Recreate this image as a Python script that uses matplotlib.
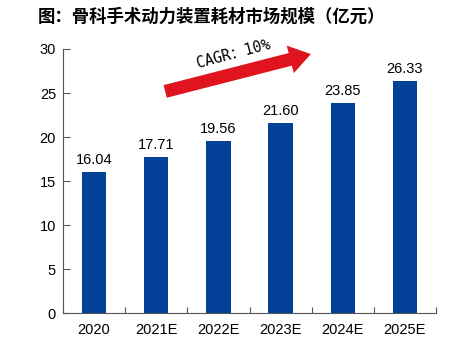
import matplotlib
matplotlib.use("Agg")
import matplotlib.pyplot as plt

plt.rcParams['font.family'] = ['Liberation Sans', 'Noto Sans CJK SC', 'DejaVu Sans']

categories = ["2020", "2021E", "2022E", "2023E", "2024E", "2025E"]
values = [16.04, 17.71, 19.56, 21.60, 23.85, 26.33]
title = "图：骨科手术动力装置耗材市场规模（亿元）"
cagr_text = "CAGR：10%"

fig = plt.figure(figsize=(4.58, 3.37), dpi=100)
ax = fig.add_axes([0.1376, 0.0712, 0.8144, 0.7834])

x = list(range(len(categories)))
ax.bar(x, values, width=0.39, color="#034098", zorder=2)
for xi, v in zip(x, values):
    ax.text(xi, v + 0.6, f"{v:.2f}", ha="center", va="bottom", fontsize=10.5, color="black")

ax.set_xlim(-0.5, len(categories) - 0.5)
ax.set_ylim(0, 30)
ax.set_yticks([0, 5, 10, 15, 20, 25, 30])
ax.set_xticks(x)
ax.set_xticklabels(categories)
ax.set_xticks([i - 0.5 for i in range(len(categories) + 1)], minor=True)
ax.tick_params(axis="x", which="major", length=0, labelsize=10.5, pad=7)
ax.tick_params(axis="x", which="minor", direction="in", length=4, width=0.8, color="#555555")
ax.tick_params(axis="y", direction="in", length=5, width=0.8, labelsize=10.5, pad=5, color="#555555")
for s in ["top", "right"]:
    ax.spines[s].set_visible(False)
for s in ["left", "bottom"]:
    ax.spines[s].set_color("#555555")
    ax.spines[s].set_linewidth(0.8)

# CAGR arrow
ax.annotate("", xy=(3.53, 29.5), xytext=(1.1, 25.1),
            arrowprops=dict(arrowstyle="simple,head_length=0.9,head_width=1.2,tail_width=0.55",
                            color="#E0141E", lw=0, mutation_scale=17),
            annotation_clip=False)
ax.text(2.24, 29.5, cagr_text, rotation=15, ha="center", va="center", fontsize=10.5,
        family=['DejaVu Sans Mono', 'Noto Sans CJK SC'], clip_on=False)

fig.text(0.083, 0.95, title, fontsize=12.5, fontweight="bold", ha="left", va="center",
         family=['Noto Sans CJK SC', 'DejaVu Sans'])

fig.savefig("out.png", dpi=100)
